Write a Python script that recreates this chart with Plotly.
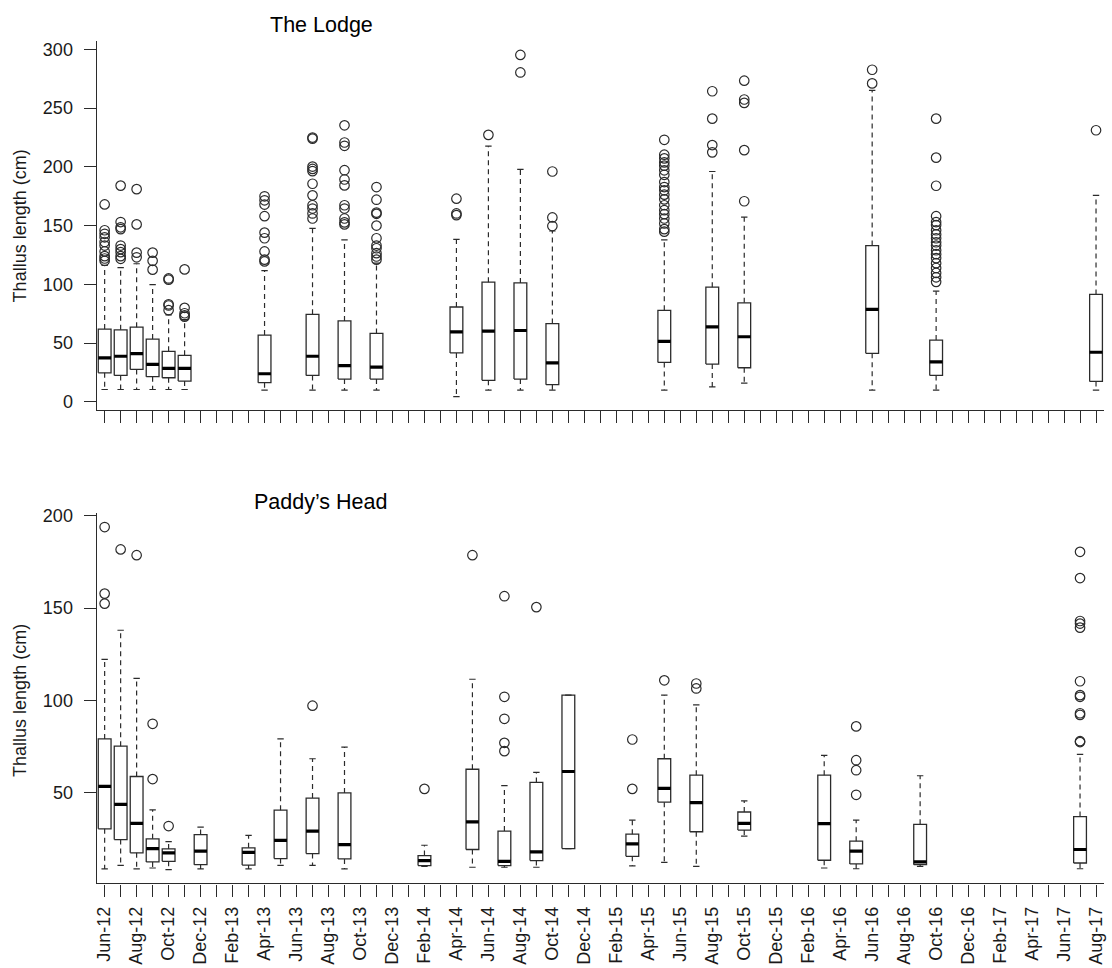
import plotly.graph_objects as go

# Monthly sampling calendar, Jun 2012 to Aug 2017
MONTHS = ["Jun-12", "Jul-12", "Aug-12", "Sep-12", "Oct-12", "Nov-12", "Dec-12",
          "Jan-13", "Feb-13", "Mar-13", "Apr-13", "May-13", "Jun-13", "Jul-13", "Aug-13", "Sep-13", "Oct-13", "Nov-13", "Dec-13",
          "Jan-14", "Feb-14", "Mar-14", "Apr-14", "May-14", "Jun-14", "Jul-14", "Aug-14", "Sep-14", "Oct-14", "Nov-14", "Dec-14",
          "Jan-15", "Feb-15", "Mar-15", "Apr-15", "May-15", "Jun-15", "Jul-15", "Aug-15", "Sep-15", "Oct-15", "Nov-15", "Dec-15",
          "Jan-16", "Feb-16", "Mar-16", "Apr-16", "May-16", "Jun-16", "Jul-16", "Aug-16", "Sep-16", "Oct-16", "Nov-16", "Dec-16",
          "Jan-17", "Feb-17", "Mar-17", "Apr-17", "May-17", "Jun-17", "Jul-17", "Aug-17"]
TICK_LABELS = [m if i % 2 == 0 else "" for i, m in enumerate(MONTHS)]

# ---- The Lodge: thallus length summaries (cm) ----
LODGE_MONTHS = ["Jun-12", "Jul-12", "Aug-12", "Sep-12", "Oct-12", "Nov-12", "Apr-13", "Jul-13", "Sep-13", "Nov-13",
                "Apr-14", "Jun-14", "Aug-14", "Oct-14", "May-15", "Aug-15", "Oct-15", "Jun-16", "Oct-16", "Aug-17"]
LODGE_LOW = [10.5, 10.5, 10.5, 10.5, 10.5, 10.5, 10, 10, 10, 10, 4.5, 10, 10, 10, 10, 12.7, 16, 10, 10, 10]
LODGE_Q1 = [24.7, 22.5, 27.6, 21.4, 20.5, 17.7, 16.3, 22.5, 19.4, 19.4, 41.6, 18.3, 19.4, 14.6, 33.5, 32.1, 29, 41.3, 22.5, 17.4]
LODGE_MED = [37.4, 38.8, 41.0, 31.8, 28.4, 28.4, 23.9, 38.8, 30.9, 29.5, 59.6, 60.2, 60.7, 33.2, 51.5, 63.8, 55.4, 78.7, 34, 42.2]
LODGE_Q3 = [61.9, 61.3, 63.5, 53.4, 43.0, 39.6, 56.8, 74.5, 68.9, 58.2, 80.7, 101.8, 101.2, 66.6, 77.9, 97.6, 84.3, 133, 52.6, 91.4]
LODGE_HIGH = [116.1, 114.2, 117.5, 99.8, 74, 70, 111.6, 147.6, 137.8, 118, 138.3, 217.6, 197.9, 145.4, 137.8, 196, 157.2, 265.1, 94.2, 175.7]
LODGE_OUT = [
    [168, 146, 143, 140, 136, 133, 128, 124, 122, 120],
    [184, 153, 148.5, 147, 133, 130, 127.4, 124, 121.7],
    [181, 151, 127, 123],
    [127, 120, 112.5],
    [105, 104, 83, 82, 78],
    [112.7, 80, 75.4, 73.5, 72.5],
    [174.9, 171.5, 167.9, 158, 144, 139.2, 128, 121, 119.5],
    [224.9, 224, 200.2, 198.2, 196.3, 185.6, 175.7, 167.3, 164.5, 160.3, 156],
    [235.3, 220.7, 217.9, 197.1, 189.2, 184.2, 167.3, 164.5, 156, 152.7, 151],
    [182.8, 172, 161, 160, 150, 139.2, 133, 130.7, 126.5, 123.7, 121],
    [172.9, 160.3, 158.9],
    [227.2],
    [295.2, 280.3],
    [196, 156.9, 149.6],
    [223, 210.3, 207.2, 203.8, 201, 197, 193.2, 187, 182.8, 180, 176.3, 172.3, 167.3, 163.1,
     159.7, 156, 151.8, 147, 144.8],
    [264.3, 241, 218.5, 212.3],
    [273.3, 257.3, 254.4, 214.2, 170.7],
    [282.6, 271],
    [241, 207.8, 183.9, 158, 153, 150.4, 146, 142.5, 139.2, 135.8, 133, 129, 125.7, 122.3, 118,
     113.9, 109.7, 106, 102.1],
    [231.1],
]

# ---- Paddy's Head: thallus length summaries (cm) ----
PADDY_MONTHS = ["Jun-12", "Jul-12", "Aug-12", "Sep-12", "Oct-12", "Dec-12", "Mar-13", "May-13", "Jul-13", "Sep-13",
                "Feb-14", "May-14", "Jul-14", "Sep-14", "Nov-14", "Mar-15", "May-15", "Jul-15", "Oct-15", "Mar-16",
                "May-16", "Sep-16", "Jul-17"]
PADDY_LOW = [8.9, 10.8, 8.9, 9.4, 8.5, 8.9, 8.9, 10.8, 10.8, 8.9, 10.3, 9.8, 9.8, 9.8, 19.9, 10.5, 12.5, 10.3, 26.6, 9.4, 9.0, 10.3, 9.0]
PADDY_Q1 = [30.6, 24.8, 17.6, 12.7, 13.0, 11.2, 11.0, 14.5, 17.2, 14.3, 10.7, 19.4, 10.7, 13.4, 19.9, 15.7, 45.0, 29.0, 29.9, 13.6, 11.6, 11.2, 12.1]
PADDY_MED = [53.6, 43.8, 33.5, 19.9, 17.6, 18.5, 17.9, 24.3, 29.4, 22.1, 13.4, 34.4, 13.0, 18.1, 61.6, 22.5, 52.5, 44.8, 33.5, 33.4, 18.5, 12.7, 19.4]
PADDY_Q3 = [79.2, 75.3, 58.9, 25.2, 19.7, 27.5, 20.3, 40.7, 47.2, 50.0, 16.1, 62.8, 29.4, 55.7, 102.9, 27.7, 68.5, 59.6, 39.7, 59.6, 23.9, 33.0, 37.2]
PADDY_HIGH = [122.2, 138, 112, 40.8, 23.7, 31.5, 27.0, 79.2, 68.5, 74.8, 21.7, 111.5, 54.0, 61.1, 102.9, 35.3, 102.9, 97.6, 45.7, 70.3, 35.3, 59.3, 70.9]
PADDY_OUT = [
    [193.8, 157.8, 152.4],
    [181.7],
    [178.6],
    [87.4, 57.5],
    [32.1],
    [], [], [],
    [97.2],
    [],
    [52.2],
    [178.6],
    [156.4, 102.0, 90.1, 77.1, 72.6],
    [150.5],
    [],
    [78.9, 52.2],
    [110.9],
    [109.2, 106.5],
    [], [],
    [86.0, 67.7, 62.3, 49.0],
    [],
    [180.4, 166.2, 143, 141.6, 139.4, 110.4, 102.9, 102.0, 93.1, 92.2, 78.0, 77.5],
]

FONT = "Liberation Sans, Arial, Helvetica, sans-serif"
INK = "#2b2b2b"
HALF_BOX = 0.4      # half of box width (month units)
HALF_CAP = 0.2      # half of whisker staple width


def data_range(low, out, high):
    """R-style axis range: data extent padded by 4% each side."""
    vals = list(low) + list(high) + [v for grp in out for v in grp]
    lo, hi = min(vals), max(vals)
    pad = 0.04 * (hi - lo)
    return [lo - pad, hi + pad]


def boxplot_traces(months, low, q1, med, q3, high, out, xa, ya):
    pos = [MONTHS.index(m) for m in months]
    wx, wy, cx, cy, bx, by, mx, my, ox, oy = [], [], [], [], [], [], [], [], [], []
    for p, a, b, c, d, e, o in zip(pos, low, q1, med, q3, high, out):
        # whiskers drawn outward from the box
        wx += [p, p, None, p, p, None]
        wy += [d, e, None, b, a, None]
        # staples
        cx += [p - HALF_CAP, p + HALF_CAP, None, p - HALF_CAP, p + HALF_CAP, None]
        cy += [e, e, None, a, a, None]
        # box outline
        bx += [p - HALF_BOX, p + HALF_BOX, p + HALF_BOX, p - HALF_BOX, p - HALF_BOX, None]
        by += [b, b, d, d, b, None]
        # median bar
        mx += [p - HALF_BOX, p + HALF_BOX, None]
        my += [c, c, None]
        ox += [p] * len(o)
        oy += list(o)
    common = dict(xaxis=xa, yaxis=ya, hoverinfo="skip", showlegend=False)
    return [
        go.Scatter(x=wx, y=wy, mode="lines", line=dict(color=INK, width=1.2, dash="5px,4px"), **common),
        go.Scatter(x=cx, y=cy, mode="lines", line=dict(color=INK, width=1.2), **common),
        go.Scatter(x=bx, y=by, mode="lines", line=dict(color=INK, width=1.3), **common),
        go.Scatter(x=mx, y=my, mode="lines", line=dict(color="black", width=3.2), **common),
        go.Scatter(x=ox, y=oy, mode="markers",
                   marker=dict(symbol="circle-open", size=9.5, color=INK, line=dict(width=1.2, color=INK)),
                   **common),
    ]


fig = go.Figure()
for t in boxplot_traces(LODGE_MONTHS, LODGE_LOW, LODGE_Q1, LODGE_MED, LODGE_Q3, LODGE_HIGH, LODGE_OUT, "x", "y"):
    fig.add_trace(t)
for t in boxplot_traces(PADDY_MONTHS, PADDY_LOW, PADDY_Q1, PADDY_MED, PADDY_Q3, PADDY_HIGH, PADDY_OUT, "x2", "y2"):
    fig.add_trace(t)

W, H = 1112, 968
x_dom = [95 / W, 1106 / W]
axis_common = dict(showline=True, linecolor=INK, linewidth=1.3, ticks="outside", ticklen=12,
                   tickwidth=1.2, tickcolor=INK, showgrid=False, zeroline=False,
                   tickfont=dict(family=FONT, size=18, color="#1a1a1a"))

fig.update_layout(
    width=W, height=H,
    margin=dict(l=0, r=0, t=0, b=0),
    paper_bgcolor="white", plot_bgcolor="white",
    showlegend=False,
    font=dict(family=FONT, size=18, color="#1a1a1a"),
    xaxis=dict(domain=x_dom, anchor="y", range=[-0.5, len(MONTHS) - 0.5],
               tickmode="array", tickvals=list(range(len(MONTHS))), showticklabels=False, **axis_common),
    yaxis=dict(domain=[1 - 407 / H, 1 - 34.6 / H], anchor="x",
               range=data_range(LODGE_LOW, LODGE_OUT, LODGE_HIGH),
               tickmode="array", tickvals=[0, 50, 100, 150, 200, 250, 300], ticklabelstandoff=7, **axis_common),
    xaxis2=dict(domain=x_dom, anchor="y2", range=[-0.5, len(MONTHS) - 0.5],
                tickmode="array", tickvals=list(range(len(MONTHS))), ticktext=TICK_LABELS,
                tickangle=-90, ticklabelstandoff=3, **axis_common),
    yaxis2=dict(domain=[1 - 884.6 / H, 1 - 511.1 / H], anchor="x2",
                range=data_range(PADDY_LOW, PADDY_OUT, PADDY_HIGH),
                tickmode="array", tickvals=[50, 100, 150, 200], ticklabelstandoff=7, **axis_common),
)

annotations = [
    dict(text="The Lodge", x=321 / W, y=1 - 18 / H, xref="paper", yref="paper",
         xanchor="center", yanchor="middle", showarrow=False, font=dict(family=FONT, size=21.5, color="black")),
    dict(text="Paddy\u2019s Head", x=320 / W, y=1 - 500 / H, xref="paper", yref="paper",
         xanchor="center", yanchor="middle", showarrow=False, font=dict(family=FONT, size=21.5, color="black")),
    dict(text="Thallus length (cm)", x=18.5 / W, y=1 - 221 / H, xref="paper", yref="paper",
         xanchor="center", yanchor="middle", textangle=-90, showarrow=False,
         font=dict(family=FONT, size=18, color="#1a1a1a")),
    dict(text="Thallus length (cm)", x=18.5 / W, y=1 - 700 / H, xref="paper", yref="paper",
         xanchor="center", yanchor="middle", textangle=-90, showarrow=False,
         font=dict(family=FONT, size=18, color="#1a1a1a")),
]
fig.update_layout(annotations=annotations)

fig.write_html("out.html")
